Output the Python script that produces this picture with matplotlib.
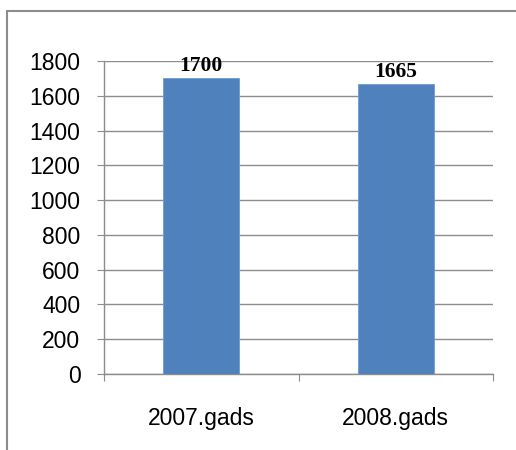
import matplotlib
matplotlib.use("Agg")
import matplotlib.pyplot as plt
from matplotlib.patches import Rectangle

# data
categories = ["2007.gads", "2008.gads"]
values = [1700, 1665]
y_ticks = [0, 200, 400, 600, 800, 1000, 1200, 1400, 1600, 1800]

fig = plt.figure(figsize=(5.16, 4.5), dpi=100)
fig.patch.set_facecolor("white")

# outer chart frame (only top and left edges visible in the crop)
fig.patches.append(Rectangle((7 / 516, -0.1), 1.2, (450 - 11) / 450 + 0.1,
                             transform=fig.transFigure, fill=False,
                             edgecolor="#8c8c8c", linewidth=1.5))

ax = fig.add_axes([104 / 516, 76 / 450, 389 / 516, 313 / 450])

x = list(range(len(categories)))
bars = ax.bar(x, values, width=0.39, color="#4f81bd", edgecolor="#6f9bd0",
              linewidth=0.6, zorder=3)

for b, v in zip(bars, values):
    ax.annotate(str(v), (b.get_x() + b.get_width() / 2, v),
                xytext=(0, 2), textcoords="offset points",
                ha="center", va="bottom", fontsize=15.5, fontweight="bold",
                family="Liberation Serif", color="black", zorder=4)

ax.set_xlim(-0.5, len(categories) - 0.5)
ax.set_ylim(0, 1800)
ax.set_yticks(y_ticks)
ax.set_yticklabels([str(t) for t in y_ticks], family="Liberation Sans", fontsize=16.5)
ax.grid(axis="y", color="#8c8c8c", linewidth=1, zorder=0)

# x ticks at category boundaries, labels centred
ax.set_xticks([-0.5, 0.5, 1.5])
ax.set_xticklabels([])
ax.set_xticks(x, minor=True)
ax.set_xticklabels(categories, minor=True, family="Liberation Sans", fontsize=16.5)
ax.tick_params(axis="x", which="minor", length=0, pad=24)
ax.tick_params(axis="x", which="major", length=5, color="#8c8c8c", direction="out")
ax.tick_params(axis="y", length=5, color="#8c8c8c", direction="out", pad=12)

for s in ["top", "right"]:
    ax.spines[s].set_visible(False)
for s in ["left", "bottom"]:
    ax.spines[s].set_color("#8c8c8c")
    ax.spines[s].set_linewidth(1)

fig.savefig("out.png", dpi=100)
